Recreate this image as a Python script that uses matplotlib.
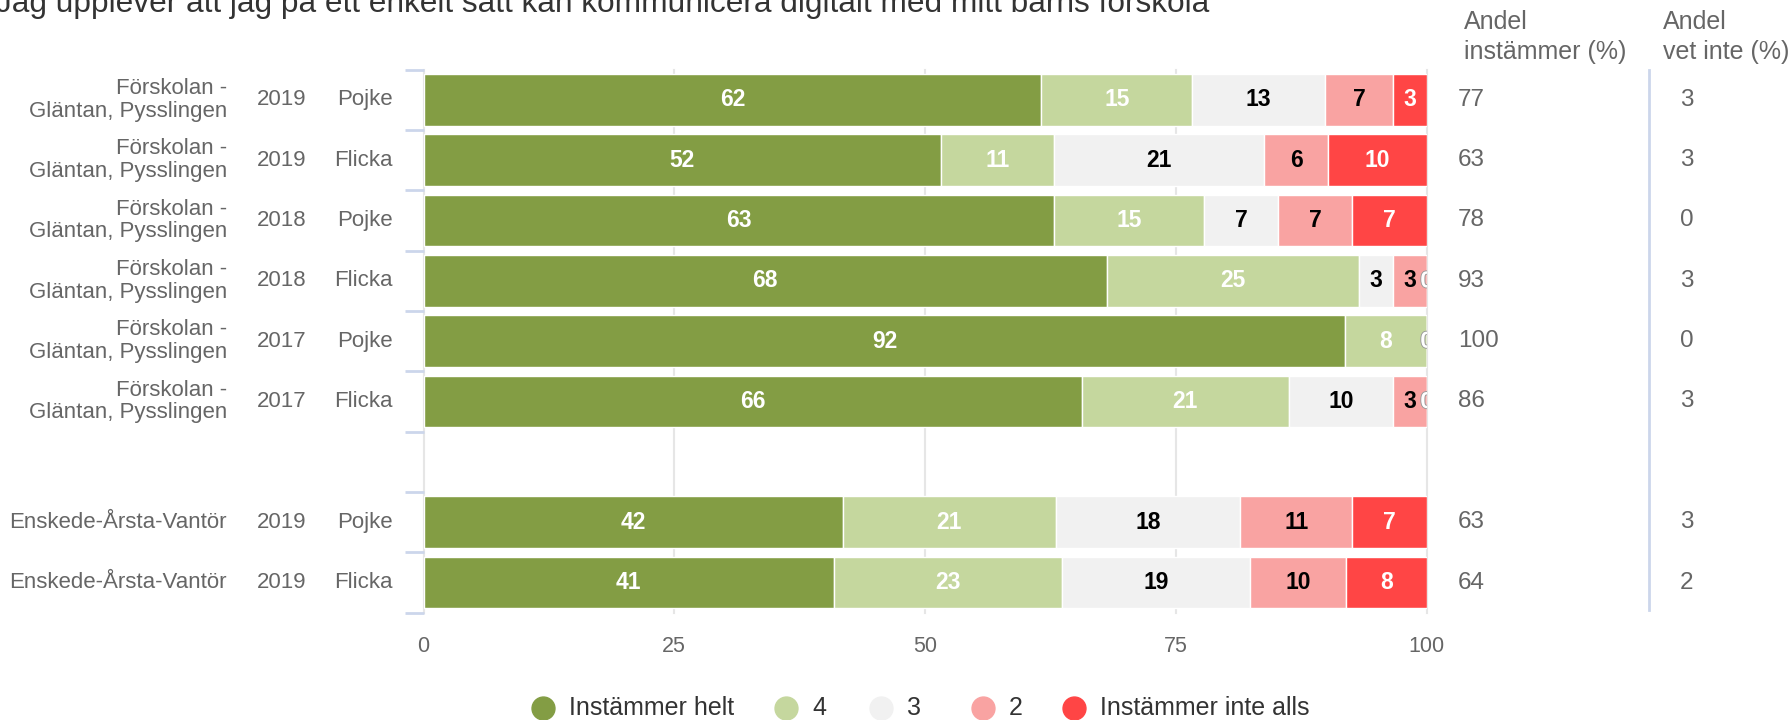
import numpy as np
import matplotlib
matplotlib.use('Agg')
import matplotlib.pyplot as plt
import matplotlib.transforms as mtransforms
import matplotlib.patheffects as pe
from matplotlib.lines import Line2D

plt.rcParams['font.family'] = ['Liberation Sans', 'DejaVu Sans']

# Data
title = 'Jag upplever att jag på ett enkelt sätt kan kommunicera digitalt med mitt barns förskola'
places = ['Förskolan -\nGläntan, Pysslingen'] * 6 + ['Enskede-Årsta-Vantör'] * 2
years = ['2019', '2019', '2018', '2018', '2017', '2017', '2019', '2019']
genders = ['Pojke', 'Flicka', 'Pojke', 'Flicka', 'Pojke', 'Flicka', 'Pojke', 'Flicka']
group = [0, 0, 0, 0, 0, 0, 1, 1]

series_names = ['Instämmer helt', '4', '3', '2', 'Instämmer inte alls']
helt = [61.6, 51.6, 62.8, 68.1, 91.9, 65.6, 41.8, 40.9]
fyra = [15.0, 11.2, 15.0, 25.2, 8.1, 20.7, 21.2, 22.7]
tre = [13.3, 21.0, 7.4, 3.3, 0.0, 10.3, 18.4, 18.8]
tva = [6.7, 6.4, 7.4, 3.4, 0.0, 3.4, 11.2, 9.6]
inte_alls = [3.4, 9.8, 7.4, 0.0, 0.0, 0.0, 7.4, 8.0]

andel_instammer = [77, 63, 78, 93, 100, 86, 63, 64]
andel_vet_inte = [3, 3, 0, 3, 0, 3, 3, 2]

colors = ['#839d44', '#c5d79e', '#f1f1f1', '#f9a3a2', '#ff4545']
label_colors = ['white', 'white', 'black', 'black', 'white']
axis_grey = '#666666'

W, H = 1789, 720
fig = plt.figure(figsize=(W / 100, H / 100), dpi=100)
ax = fig.add_axes([423.5 / W, (H - 612.7) / H, 1003.2 / W, 543.1 / H])

y = np.arange(len(years)) + np.array(group)
series = [helt, fyra, tre, tva, inte_alls]

left = np.zeros(len(y))
for k, (vals, c, tc, name) in enumerate(zip(series, colors, label_colors, series_names)):
    vals = np.array(vals)
    ax.barh(y, vals, left=left, height=0.86, color=c, edgecolor='white',
            linewidth=1, label=name, zorder=2)
    for yi, l, v in zip(y, left, vals):
        # zero segments overlap at the bar end; only the last one keeps its label
        if v == 0 and k != len(series) - 1:
            continue
        t = ax.text(l + v / 2, yi, str(int(round(v))), ha='center', va='center',
                    fontsize=16.5, fontweight='bold', color=tc, zorder=3, clip_on=True)
        if v == 0:
            t.set_path_effects([pe.withStroke(linewidth=1.3, foreground='#999999')])
    left += vals

ax.set_xlim(0, 100)
ax.set_ylim(8.5, -0.5)
ax.set_xticks([0, 25, 50, 75, 100])
ax.tick_params(axis='x', length=0, pad=17, labelsize=15.5, labelcolor=axis_grey)
ax.set_yticks(np.arange(-0.5, 9, 1))
ax.set_yticklabels([])
ax.tick_params(axis='y', length=14, width=2, color='#ccd6eb')
ax.grid(axis='x', color='#e6e6e6', linewidth=1.5)
ax.set_axisbelow(True)
for gl in ax.get_xgridlines():
    gl.set_clip_on(False)
for s in ax.spines.values():
    s.set_visible(False)

trans = mtransforms.blended_transform_factory(ax.transAxes, ax.transData)
for i, yi in enumerate(y):
    ax.text(-0.196, yi, places[i], ha='right', va='center', fontsize=16,
            color=axis_grey, linespacing=1.12, transform=trans)
    ax.text(-0.117, yi, years[i], ha='right', va='center', fontsize=16,
            color=axis_grey, transform=trans)
    ax.text(-0.0304, yi, genders[i], ha='right', va='center', fontsize=16,
            color=axis_grey, transform=trans)
    ax.text(1.031, yi, str(andel_instammer[i]), ha='left', va='center', fontsize=17.5,
            color=axis_grey, transform=trans)
    ax.text(1.259, yi, str(andel_vet_inte[i]), ha='center', va='center', fontsize=17.5,
            color=axis_grey, transform=trans)

ax.plot([1.2215, 1.2215], [-0.49, 8.45], transform=trans, color='#ccd6eb',
        linewidth=2, clip_on=False)

fig.text(1464 / W, 1 - 10 / H, 'Andel\ninstämmer (%)', ha='left', va='top',
         fontsize=18, color=axis_grey, linespacing=1.3)
fig.text(1663 / W, 1 - 10 / H, 'Andel\nvet inte (%)', ha='left', va='top',
         fontsize=18, color=axis_grey, linespacing=1.3)

fig.text(-4 / W, 1 - 12 / H, title, ha='left', va='baseline', fontsize=22.8, color='#333333')

# legend, laid out item by item like the original
legend_x = [543, 786, 881, 983, 1074]
legend_y = 1 - 708 / H
for lx, c, n in zip(legend_x, colors, series_names):
    fig.add_artist(Line2D([lx / W], [legend_y], transform=fig.transFigure, marker='o',
                          linestyle='none', markersize=16.5, markerfacecolor=c,
                          markeredgecolor=c))
    fig.text((lx + 26) / W, legend_y, n, ha='left', va='center', fontsize=18,
             color='#333333')

fig.savefig('out.png', dpi=100)
